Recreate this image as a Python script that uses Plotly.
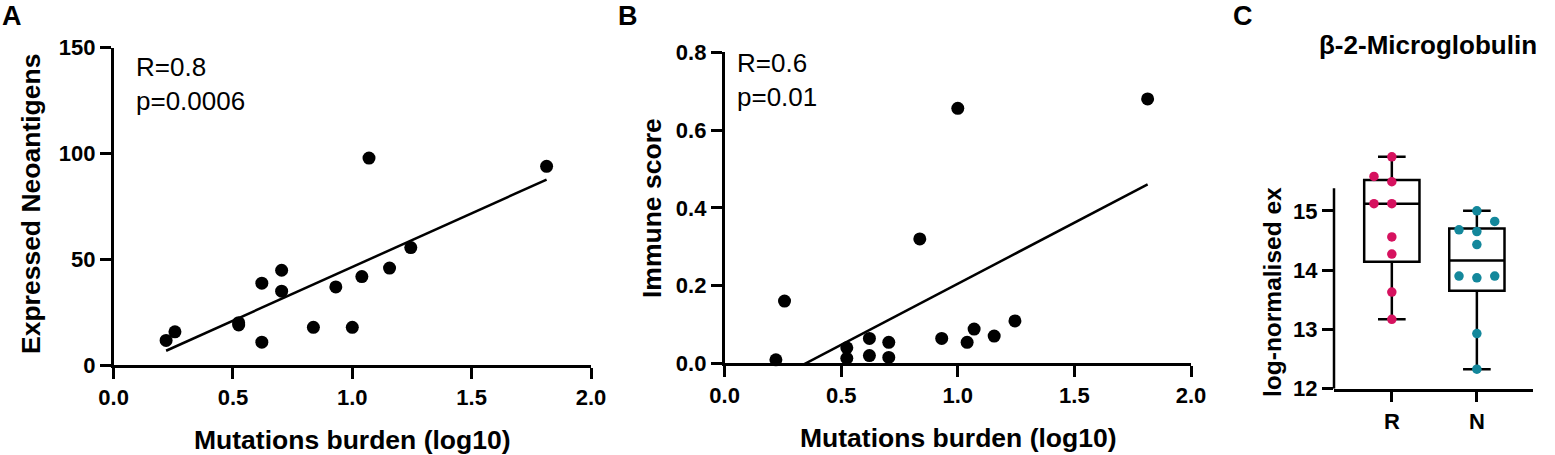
import plotly.graph_objects as go
import numpy as np

# shared x values (same samples in A and B)
mutation_burden = [0.22, 0.257, 0.524, 0.524, 0.621, 0.621, 0.704, 0.704,
                   0.837, 0.931, 1.0, 1.04, 1.07, 1.156, 1.245, 1.814]
neoantigens = [11.6, 15.7, 18.9, 20.0, 38.7, 10.8, 44.8, 34.9,
               17.8, 36.9, 17.8, 41.8, 97.8, 45.8, 55.5, 93.9]
immune_score = [0.009, 0.160, 0.040, 0.013, 0.064, 0.020, 0.054, 0.015,
                0.320, 0.064, 0.656, 0.054, 0.088, 0.070, 0.109, 0.680]

groups = ["R", "N"]
r_expr = [15.91, 15.58, 15.49, 15.12, 15.12, 14.56, 14.27, 13.63, 13.17]
n_expr = [15.0, 14.82, 14.68, 14.65, 14.43, 13.9, 13.9, 13.87, 12.93, 12.33]
box_q1 = [14.14, 13.65]
box_median = [15.12, 14.16]
box_q3 = [15.52, 14.70]
box_low = [13.17, 12.33]
box_high = [15.91, 15.0]

W, H = 1555, 455
FONT = "Liberation Sans, Arial, sans-serif"
MAGENTA = "#d6125f"
TEAL = "#13879b"


def px(x):
    return x / W


def py(y):
    return 1 - y / H


def swarm(vals, thresh=0.2, step=0.21):
    # simple column-scatter offsets like Prism
    order = np.argsort(vals)
    placed = []
    offs = [0.0] * len(vals)
    for i in order:
        v = vals[i]
        for slot in [0, -1, 1, -2, 2]:
            if all(abs(v - pv) >= thresh or ps != slot for pv, ps in placed):
                break
        placed.append((v, slot))
        offs[i] = slot * step
    return offs


fig = go.Figure()

# ---- panel A
xa = np.array(mutation_burden)
ka, ba = np.polyfit(xa, neoantigens, 1)
fx = np.array([xa.min(), xa.max()])
fig.add_trace(go.Scatter(x=fx, y=ka * fx + ba, mode="lines",
                         line=dict(color="black", width=2.5),
                         xaxis="x", yaxis="y", showlegend=False))
fig.add_trace(go.Scatter(x=mutation_burden, y=neoantigens, mode="markers",
                         marker=dict(color="black", size=13), cliponaxis=False,
                         xaxis="x", yaxis="y", showlegend=False))

# ---- panel B
kb, bb = np.polyfit(xa, immune_score, 1)
fig.add_trace(go.Scatter(x=fx, y=kb * fx + bb, mode="lines",
                         line=dict(color="black", width=2.5),
                         xaxis="x2", yaxis="y2", showlegend=False))
fig.add_trace(go.Scatter(x=mutation_burden, y=immune_score, mode="markers",
                         marker=dict(color="black", size=13), cliponaxis=False,
                         xaxis="x2", yaxis="y2", showlegend=False))

# ---- panel C
for i in range(2):
    fig.add_trace(go.Box(x=[i], q1=[box_q1[i]], median=[box_median[i]],
                         q3=[box_q3[i]], lowerfence=[box_low[i]],
                         upperfence=[box_high[i]], width=0.65, whiskerwidth=0.5,
                         fillcolor="rgba(0,0,0,0)", line=dict(color="black", width=2.5),
                         boxpoints=False, hoverinfo="skip",
                         xaxis="x3", yaxis="y3", showlegend=False))
for i, (vals, col) in enumerate([(r_expr, MAGENTA), (n_expr, TEAL)]):
    fig.add_trace(go.Scatter(x=[i + o for o in swarm(vals)], y=vals, mode="markers",
                             marker=dict(color=col, size=9.5), cliponaxis=False,
                             xaxis="x3", yaxis="y3", showlegend=False))

axis_common = dict(showline=True, linewidth=2.5, linecolor="black", ticks="outside",
                   ticklen=11, tickwidth=2.5, tickcolor="black", showgrid=False,
                   zeroline=False, automargin=False,
                   tickfont=dict(size=22, color="black", family=FONT, weight="bold"))

fig.update_layout(
    width=W, height=H, margin=dict(l=0, r=0, t=0, b=0),
    plot_bgcolor="white", paper_bgcolor="white",
    font=dict(family=FONT, color="black"),
    xaxis=dict(domain=[px(113.6), px(591)], range=[0, 2], dtick=0.5, tickformat=".1f",
               anchor="y", **axis_common),
    yaxis=dict(domain=[py(365), py(47.7)], range=[0, 150], dtick=50,
               anchor="x", **axis_common),
    xaxis2=dict(domain=[px(724.6), px(1191)], range=[0, 2], dtick=0.5, tickformat=".1f",
                anchor="y2", **axis_common),
    yaxis2=dict(domain=[py(363.3), py(52.3)], range=[0, 0.8], dtick=0.2, tickformat=".1f",
                anchor="x2", **axis_common),
    xaxis3=dict(domain=[px(1334), px(1533)], range=[-0.68, 1.66], tickvals=[0, 1],
                ticktext=groups, anchor="y3", **axis_common),
    yaxis3=dict(domain=[py(388.7), py(151.5)], range=[12, 16], tickvals=[12, 13, 14, 15],
                anchor="x3", **{**axis_common, "showline": False}),
)

# y axis line of C stops below the top of the plot
fig.add_shape(type="line", xref="x3 domain", yref="y3", x0=0, x1=0, y0=12, y1=15.38,
              line=dict(color="black", width=2.5))

bold = dict(family=FONT, size=26.5, color="black", weight="bold")
notes = [
    dict(text="A", x=px(0), y=py(16), xanchor="left", font={**bold, "size": 27}),
    dict(text="B", x=px(616), y=py(16), xanchor="left", font={**bold, "size": 27}),
    dict(text="C", x=px(1231), y=py(16), xanchor="left", font={**bold, "size": 27}),
    dict(text="Expressed Neoantigens", x=px(31), y=py(204), textangle=-90, font=bold),
    dict(text="Mutations burden (log10)", x=px(352), y=py(440), font=bold),
    dict(text="Immune score", x=px(652), y=py(208), textangle=-90, font=bold),
    dict(text="Mutations burden (log10)", x=px(958), y=py(438), font=bold),
    dict(text="log-normalised ex", x=px(1272), y=py(292), textangle=-90,
         font={**bold, "size": 24.5}),
    dict(text="β-2-Microglobulin", x=px(1428), y=py(45), font={**bold, "size": 26}),
    dict(text="R=0.8<br>p=0.0006", x=px(134), y=py(50), xanchor="left", yanchor="top",
         align="left", font=dict(family=FONT, size=26, color="black")),
    dict(text="R=0.6<br>p=0.01", x=px(735), y=py(46), xanchor="left", yanchor="top",
         align="left", font=dict(family=FONT, size=26, color="black")),
]
for n in notes:
    n.setdefault("xanchor", "center")
    n.setdefault("yanchor", "middle")
    fig.add_annotation(xref="paper", yref="paper", showarrow=False, **n)

# drop the default 8px page margin so the figure fills the window exactly
fig.write_html("out.html", config={"displayModeBar": False},
               post_script="document.body.style.margin='0px';")
